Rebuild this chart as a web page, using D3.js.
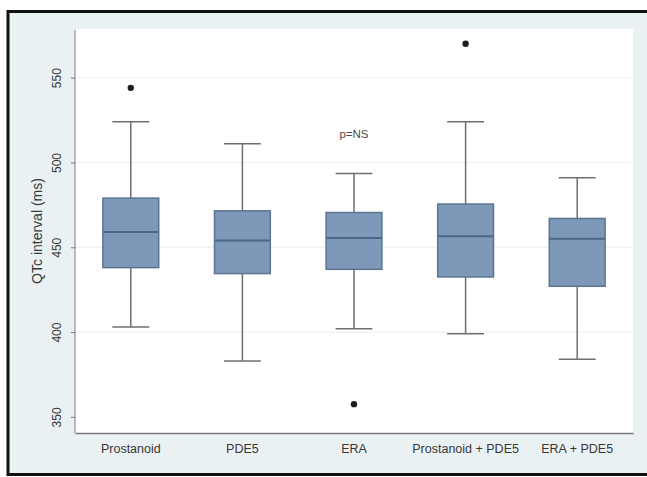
<!DOCTYPE html>
<html>
<head>
<meta charset="utf-8">
<script src="https://cdn.jsdelivr.net/npm/d3@7"></script>
<style>
  html, body { margin: 0; padding: 0; background: #ffffff; }
  svg { display: block; font-family: "Liberation Sans", Arial, sans-serif; }
</style>
</head>
<body>
<svg id="chart" width="647" height="477"></svg>
<script>
// QTc interval by treatment group (box plot summaries, ms)
const categories = ["Prostanoid", "PDE5", "ERA", "Prostanoid + PDE5", "ERA + PDE5"];
const whiskerLow  = [403, 383, 402, 399, 384];
const q1          = [438, 434.5, 437, 432.5, 427];
const median      = [459, 454, 455.5, 456.5, 455];
const q3          = [479, 471.5, 470.5, 475.5, 467];
const whiskerHigh = [524, 511, 493.5, 524, 491];
const outlierGroup = ["Prostanoid", "ERA", "Prostanoid + PDE5"];
const outlierValue = [544, 357.5, 570];
const yTicks = [350, 400, 450, 500, 550];
const yTitle = "QTc interval (ms)";
const note = "p=NS";

const svg = d3.select("#chart");
const textColor = "#383838";

// outer frame
svg.append("rect")
  .attr("x", 8).attr("y", 11.5)
  .attr("width", 660).attr("height", 463)
  .attr("fill", "#eaf1f3")
  .attr("stroke", "#111").attr("stroke-width", 3);

const plot = { left: 75, right: 633, top: 29, bottom: 433 };

const x = d3.scaleBand().domain(categories).range([plot.left, plot.right]).padding(0);
const y = d3.scaleLinear().domain([340.5, 578.7]).range([plot.bottom, plot.top]);

// plot region
svg.append("rect")
  .attr("x", plot.left).attr("y", plot.top)
  .attr("width", plot.right - plot.left).attr("height", plot.bottom - plot.top)
  .attr("fill", "#ffffff");

// gridlines
svg.append("g").selectAll("line")
  .data(yTicks.filter(t => t > 350))
  .join("line")
  .attr("x1", plot.left).attr("x2", plot.right)
  .attr("y1", d => y(d)).attr("y2", d => y(d))
  .attr("stroke", "#eef3f3").attr("stroke-width", 1.5);

// y axis
const yAxis = svg.append("g")
  .attr("transform", `translate(${plot.left},0)`)
  .call(d3.axisLeft(y).tickValues(yTicks).tickSize(4).tickPadding(4).tickFormat(d3.format("d")));
yAxis.select(".domain").attr("stroke", "#7a7a7a").attr("d", `M0,${plot.top + 1}V${plot.bottom}`);
yAxis.selectAll(".tick line").attr("stroke", "#7a7a7a");
yAxis.selectAll(".tick text")
  .attr("fill", textColor).attr("font-size", 12)
  .attr("text-anchor", "middle")
  .attr("x", null)
  .attr("transform", "translate(-18,0) rotate(-90)")
  .attr("y", 0).attr("dy", "0.35em");

// x axis
const xAxis = svg.append("g")
  .attr("transform", `translate(0,${plot.bottom})`)
  .call(d3.axisBottom(x).tickSize(0).tickPadding(11));
xAxis.select(".domain").attr("stroke", "#7a7a7a").attr("stroke-width", 1.5);
xAxis.selectAll(".tick text").attr("fill", textColor).attr("font-size", 12.5);

// y title
svg.append("text")
  .attr("transform", `translate(37,${(plot.top + plot.bottom) / 2}) rotate(-90)`)
  .attr("text-anchor", "middle").attr("dy", "0.35em")
  .attr("font-size", 14).attr("fill", textColor)
  .text(yTitle);

// boxes
const boxW = x.bandwidth() * 0.5;
const capW = x.bandwidth() * 0.33;
const rows = categories.map((c, i) => ({
  c, lo: whiskerLow[i], q1: q1[i], med: median[i], q3: q3[i], hi: whiskerHigh[i]
}));
const g = svg.append("g").selectAll("g").data(rows).join("g")
  .attr("transform", d => `translate(${x(d.c) + x.bandwidth() / 2},0)`);

const whiskerColor = "#6f6f6f";
g.append("line").attr("x1", 0).attr("x2", 0)
  .attr("y1", d => y(d.hi)).attr("y2", d => y(d.q3))
  .attr("stroke", whiskerColor).attr("stroke-width", 1.5);
g.append("line").attr("x1", 0).attr("x2", 0)
  .attr("y1", d => y(d.q1)).attr("y2", d => y(d.lo))
  .attr("stroke", whiskerColor).attr("stroke-width", 1.5);
g.append("line").attr("x1", -capW / 2).attr("x2", capW / 2)
  .attr("y1", d => y(d.hi)).attr("y2", d => y(d.hi))
  .attr("stroke", whiskerColor).attr("stroke-width", 1.5);
g.append("line").attr("x1", -capW / 2).attr("x2", capW / 2)
  .attr("y1", d => y(d.lo)).attr("y2", d => y(d.lo))
  .attr("stroke", whiskerColor).attr("stroke-width", 1.5);

g.append("rect")
  .attr("x", -boxW / 2).attr("width", boxW)
  .attr("y", d => y(d.q3)).attr("height", d => y(d.q1) - y(d.q3))
  .attr("fill", "#7d98b8").attr("stroke", "#5b7591").attr("stroke-width", 1.5);
g.append("line")
  .attr("x1", -boxW / 2).attr("x2", boxW / 2)
  .attr("y1", d => y(d.med)).attr("y2", d => y(d.med))
  .attr("stroke", "#4b6784").attr("stroke-width", 2);

// outside values
svg.append("g").selectAll("circle")
  .data(outlierGroup.map((c, i) => ({ c, v: outlierValue[i] })))
  .join("circle")
  .attr("cx", d => x(d.c) + x.bandwidth() / 2)
  .attr("cy", d => y(d.v))
  .attr("r", 3.2)
  .attr("fill", "#1e1e1e");

// significance note
svg.append("text")
  .attr("x", x("ERA") + x.bandwidth() / 2).attr("y", 134)
  .attr("text-anchor", "middle").attr("dy", "0.35em")
  .attr("font-size", 11.5).attr("fill", "#4a4a4a")
  .text(note);
</script>
</body>
</html>
